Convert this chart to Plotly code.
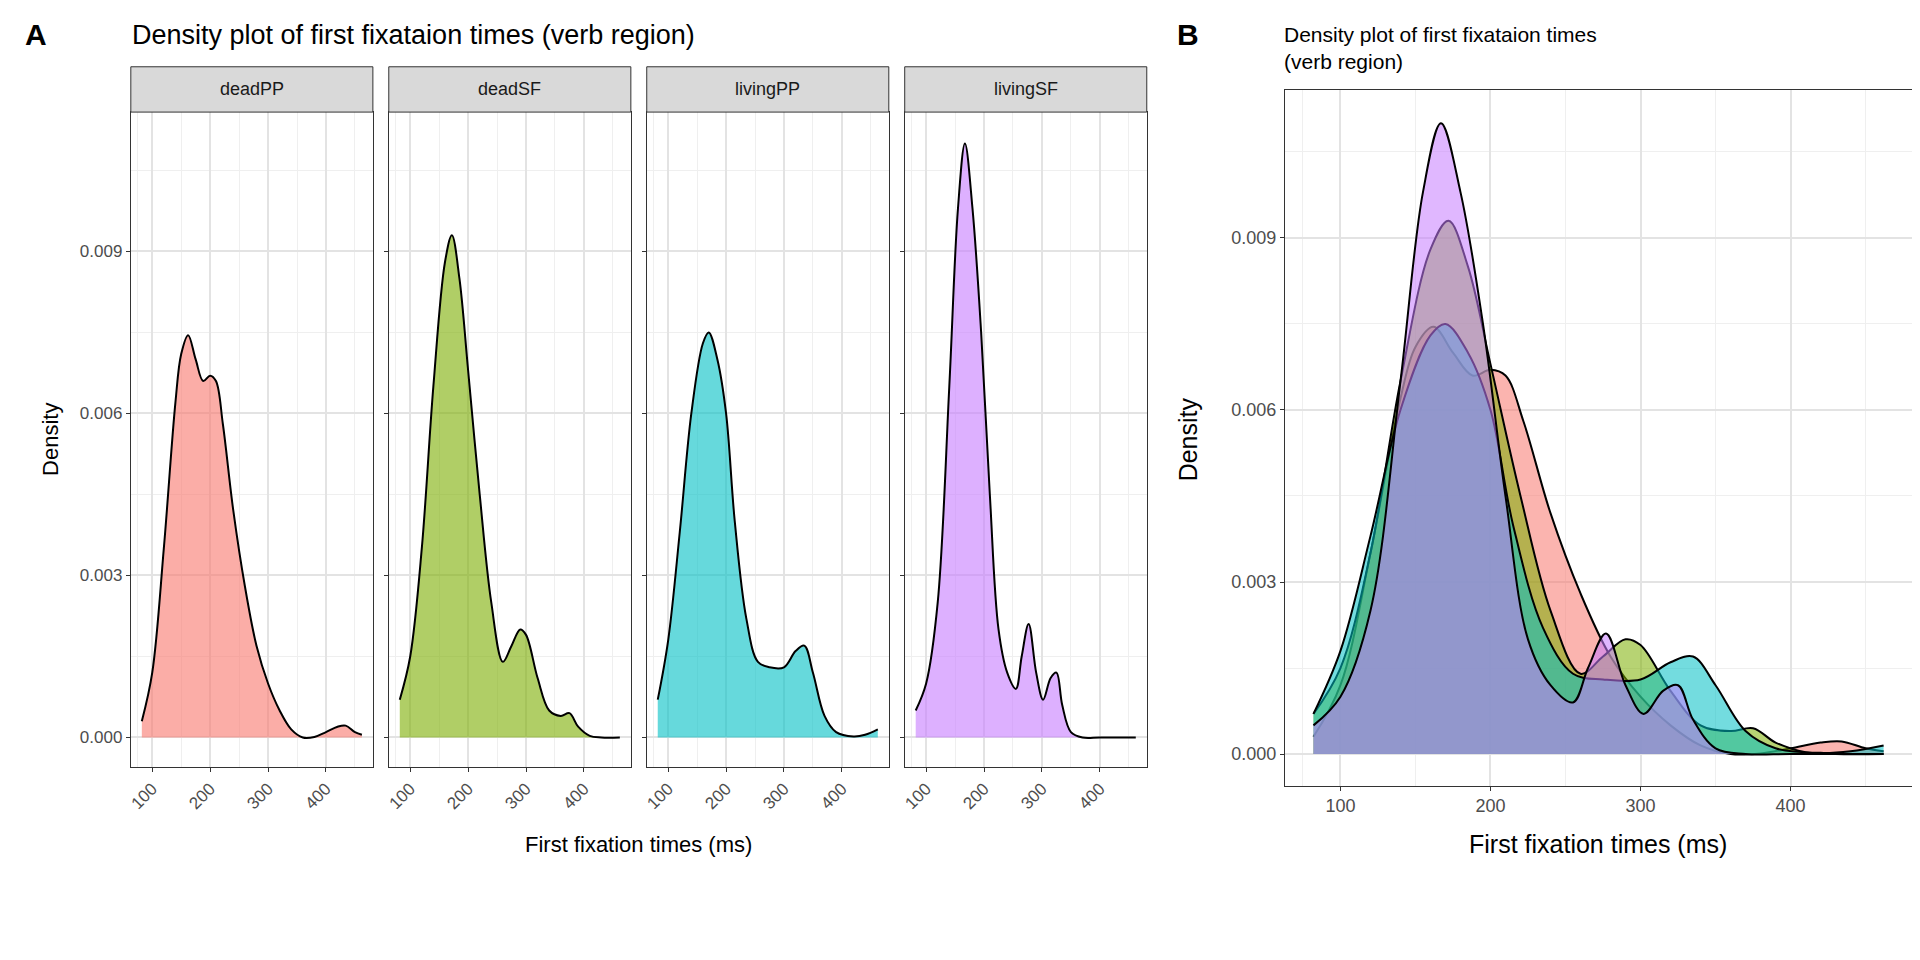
import plotly.graph_objects as go

groups = ["deadPP", "deadSF", "livingPP", "livingSF"]
colors = ["248,118,109", "124,174,0", "0,191,196", "199,124,255"]

x_deadPP = [82, 100, 120, 140, 150, 162, 175, 188, 200, 210, 222, 240, 260, 280, 300, 320, 340, 360, 380, 400, 420, 434, 450, 462]
y_deadPP = [0.0003, 0.0012, 0.0035, 0.0062, 0.0071, 0.00745, 0.0070, 0.0066, 0.0067, 0.0066, 0.0058, 0.0042, 0.0028, 0.0017, 0.0010, 0.0005, 0.00015, 0.0, 0.00001, 0.0001, 0.0002, 0.00022, 0.0001, 0.00005]
x_deadSF = [82, 100, 120, 140, 160, 172, 185, 200, 220, 240, 260, 275, 290, 300, 320, 340, 360, 375, 390, 410, 430, 462]
y_deadSF = [0.0007, 0.0015, 0.0035, 0.0065, 0.0088, 0.0093, 0.0085, 0.0068, 0.0045, 0.0025, 0.0014, 0.0017, 0.0020, 0.0019, 0.0011, 0.0005, 0.0004, 0.00045, 0.0002, 0.00003, 0.0, 0.0]
x_livingPP = [82, 100, 120, 140, 160, 170, 185, 200, 215, 235, 255, 275, 300, 320, 335, 350, 370, 390, 420, 440, 462]
y_livingPP = [0.0007, 0.0018, 0.0038, 0.0060, 0.0073, 0.0075, 0.0070, 0.0060, 0.0040, 0.0022, 0.0014, 0.0013, 0.0013, 0.0016, 0.0017, 0.0012, 0.0004, 0.0001, 0.00002, 0.00005, 0.00015]
x_livingSF = [82, 100, 120, 140, 155, 167, 180, 195, 210, 225, 240, 255, 265, 277, 290, 302, 315, 325, 335, 350, 370, 400, 462]
y_livingSF = [0.0005, 0.0010, 0.0025, 0.0065, 0.0098, 0.0110, 0.0098, 0.0075, 0.0045, 0.0020, 0.0012, 0.0009, 0.0015, 0.0021, 0.0012, 0.0007, 0.0011, 0.0012, 0.0006, 0.0001, 0.0, 0.0, 0.0]

xs = [x_deadPP, x_deadSF, x_livingPP, x_livingSF]
ys = [y_deadPP, y_deadSF, y_livingPP, y_livingSF]

W, H = 1568.0, 784.0
font = "Liberation Sans, Arial, sans-serif"
facet_px = [(98, 296), (309, 507), (520, 718), (731, 929)]
b_px = (1042, 1555)

fig = go.Figure()
layout = {}
xr = [63, 481]
yr = [-0.00055, 0.01158]

def axis_common():
    return dict(showline=True, mirror=True, linecolor="#333333", linewidth=1,
                showgrid=True, gridcolor="#E3E3E3", gridwidth=1.5,
                ticks="outside", ticklen=4, tickcolor="#333333",
                tickfont=dict(size=17, color="#4D4D4D", family=font), zeroline=False)

minor_x = dict(tickvals=[75, 150, 250, 350, 450], showgrid=True, gridcolor="#EFEFEF", gridwidth=1, ticks="")
minor_y = dict(tickvals=[0.0015, 0.0045, 0.0075, 0.0105], showgrid=True, gridcolor="#EFEFEF", gridwidth=1, ticks="")

for i, g in enumerate(groups):
    n = i + 1
    xa = "x" if n == 1 else f"x{n}"
    ya = "y" if n == 1 else f"y{n}"
    fig.add_trace(go.Scatter(x=xs[i], y=ys[i], mode="lines", line=dict(color="black", width=2, shape="spline", smoothing=1.0),
                             fill="tozeroy", fillcolor=f"rgba({colors[i]},0.6)", xaxis=xa, yaxis=ya, showlegend=False))
    x0, x1 = facet_px[i]
    xd = axis_common()
    xd.update(domain=[x0 / W, x1 / W], range=xr, tickvals=[100, 200, 300, 400], tickangle=-45,
              minor=minor_x, anchor=ya)
    yd = axis_common()
    yd.update(domain=[1 - 620 / H, 1 - 85 / H], range=yr, tickvals=[0, 0.003, 0.006, 0.009],
              tickformat=".3f", showticklabels=(n == 1), minor=minor_y, anchor=xa)
    layout["xaxis" if n == 1 else f"xaxis{n}"] = xd
    layout["yaxis" if n == 1 else f"yaxis{n}"] = yd
    fig.add_shape(type="rect", xref="paper", yref="paper", x0=x0 / W, x1=x1 / W, y0=1 - 85 / H, y1=1 - 48 / H,
                  fillcolor="#D9D9D9", line=dict(color="#333333", width=1))
    fig.add_annotation(text=g, xref="paper", yref="paper", x=(x0 + x1) / 2 / W, y=1 - 66.5 / H, showarrow=False,
                       xanchor="center", yanchor="middle", font=dict(size=18, color="#1A1A1A", family=font))

for i, g in enumerate(groups):
    fig.add_trace(go.Scatter(x=xs[i], y=ys[i], mode="lines", line=dict(color="black", width=2, shape="spline", smoothing=1.0),
                             fill="tozeroy", fillcolor=f"rgba({colors[i]},0.55)", xaxis="x5", yaxis="y5", showlegend=False))
xd = axis_common()
xd.update(domain=[b_px[0] / W, b_px[1] / W], range=xr, tickvals=[100, 200, 300, 400], minor=minor_x, anchor="y5")
xd["tickfont"]["size"] = 18
yd = axis_common()
yd.update(domain=[1 - 635 / H, 1 - 67 / H], range=yr, tickvals=[0, 0.003, 0.006, 0.009], tickformat=".3f",
          minor=minor_y, anchor="x5")
yd["tickfont"]["size"] = 18
layout["xaxis5"] = xd
layout["yaxis5"] = yd

ann = [
    dict(text="<b>A</b>", x=10 / W, y=1 - 22 / H, size=30, xanchor="left"),
    dict(text="<b>B</b>", x=952 / W, y=1 - 22 / H, size=30, xanchor="left"),
    dict(text="Density plot of first fixataion times (verb region)", x=97 / W, y=1 - 22 / H, size=27, xanchor="left"),
    dict(text="Density plot of first fixataion times<br>(verb region)", x=1040 / W, y=1 - 33 / H, size=21, xanchor="left"),
    dict(text="First fixation times (ms)", x=513 / W, y=1 - 683 / H, size=22, xanchor="center"),
    dict(text="First fixation times (ms)", x=1298 / W, y=1 - 683 / H, size=25, xanchor="center"),
]
for a in ann:
    fig.add_annotation(text=a["text"], xref="paper", yref="paper", x=a["x"], y=a["y"], xanchor=a["xanchor"],
                       yanchor="middle", align="left", showarrow=False, font=dict(size=a["size"], color="black", family=font))
fig.add_annotation(text="Density", xref="paper", yref="paper", x=20 / W, y=1 - 352 / H, textangle=-90, showarrow=False,
                   font=dict(size=22, color="black", family=font))
fig.add_annotation(text="Density", xref="paper", yref="paper", x=963 / W, y=1 - 352 / H, textangle=-90, showarrow=False,
                   font=dict(size=25, color="black", family=font))

fig.update_layout(width=1920, height=960, margin=dict(l=0, r=0, t=0, b=0), plot_bgcolor="white",
                  paper_bgcolor="white", **layout)
fig.write_html("out.html")
